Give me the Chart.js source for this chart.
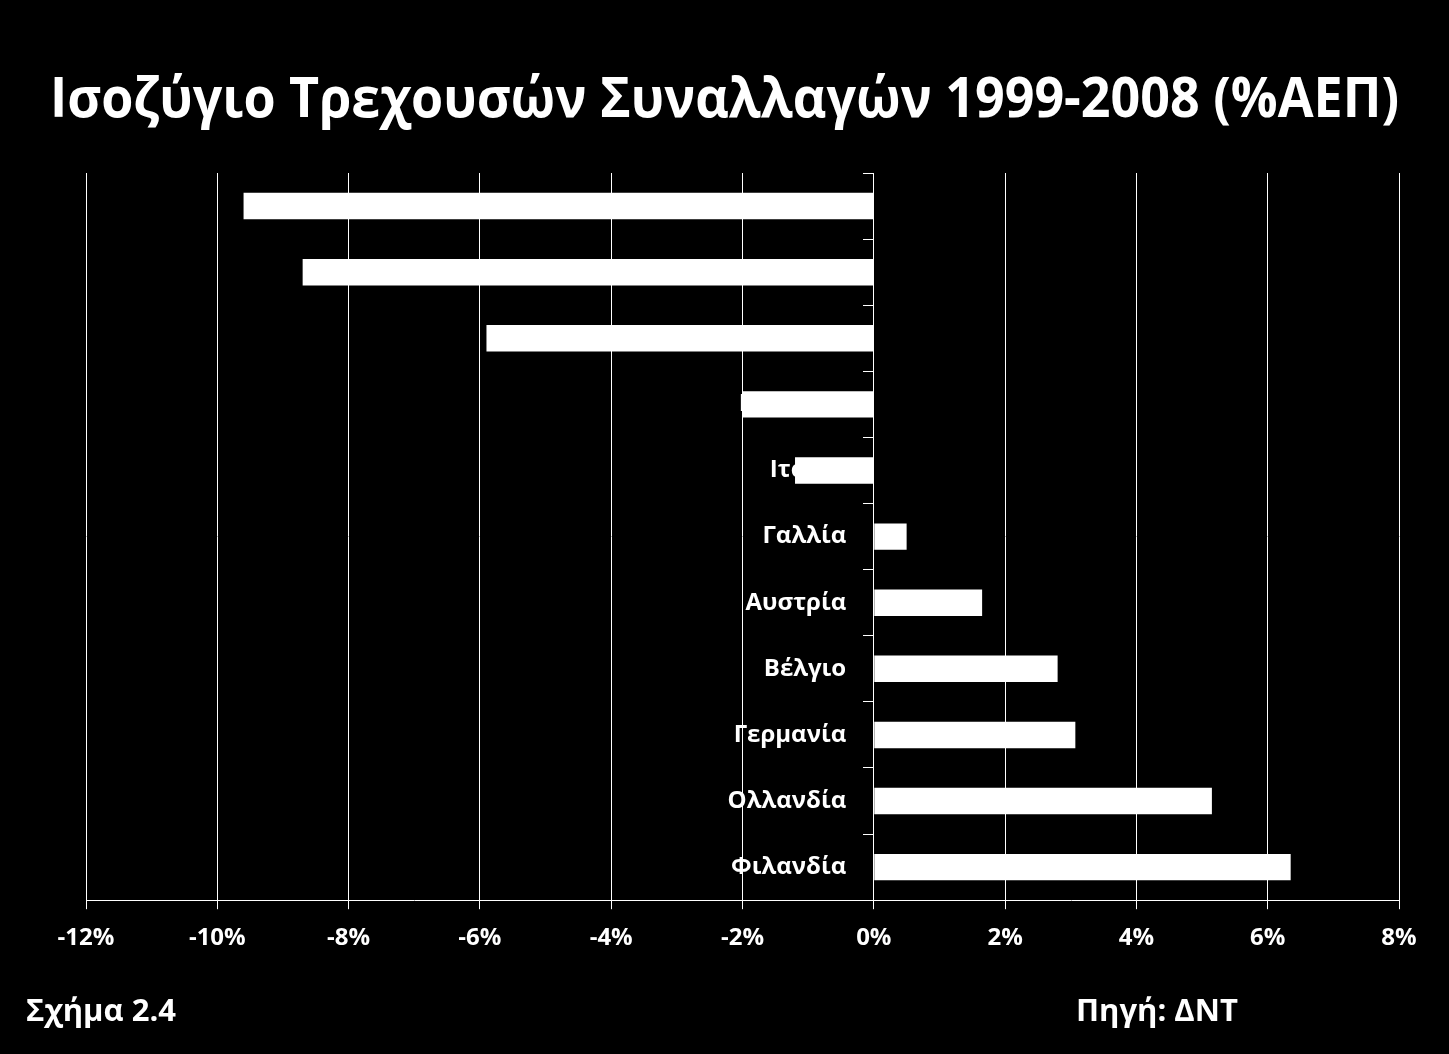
<!DOCTYPE html>
<html>
<head>
<meta charset="utf-8">
<script src="https://cdn.jsdelivr.net/npm/chart.js@4"></script>
<style>
  html, body { margin: 0; padding: 0; background: #000; }
  #wrap { position: relative; width: 1449px; height: 1054px; }
  .note { position: absolute; color: #fff; font-family: "Open Sans", "Noto Sans", sans-serif; font-weight: bold; font-size: 31px; }
</style>
</head>
<body>
<div id="wrap">
  <canvas id="ca-chart" width="1449" height="1054"></canvas>
  <div class="note" style="left:26px; top:988px;">Σχήμα 2.4</div>
  <div class="note" style="left:1076px; top:988px;">Πηγή: ΔΝΤ</div>
</div>
<script>
// Countries, top to bottom
const countries = ["Πορτογαλία", "Ελλάδα", "Ισπανία", "Ιρλανδία", "Ιταλία", "Γαλλία",
    "Αυστρία", "Βέλγιο", "Γερμανία", "Ολλανδία", "Φιλανδία"];
// Current account balance, average 1999-2008, % of GDP
const balance = [-9.6, -8.7, -5.9, -2.0, -1.2, 0.5, 1.65, 2.8, 3.07, 5.15, 6.35];
// x axis range and step (%)
const xMin = -12;
const xMax = 8;
const xStep = 2;

const font = "'Open Sans', 'Noto Sans', sans-serif";

const ctx = document.getElementById("ca-chart").getContext("2d");
new Chart(ctx, {
    type: "bar",
    data: {
        labels: countries,
        datasets: [{
            data: balance,
            yAxisID: "y",
            backgroundColor: "#ffffff",
            borderWidth: 0,
            categoryPercentage: 1.0,
            barPercentage: 0.4,
        }],
    },
    options: {
        indexAxis: "y",
        responsive: false,
        animation: false,
        // symmetric padding so the title is centred on the page
        layout: { padding: { left: 50, right: 50, top: 0, bottom: 86 } },
        plugins: {
            legend: { display: false },
            tooltip: { enabled: false },
            title: {
                display: true,
                text: "Ισοζύγιο Τρεχουσών Συναλλαγών 1999-2008 (%ΑΕΠ)",
                color: "#ffffff",
                font: { family: font, size: 55, weight: "bold" },
                padding: { top: 68, bottom: 39 },
            },
        },
        scales: {
            x: {
                min: xMin,
                max: xMax,
                grid: { color: "#ffffff", lineWidth: 1, tickLength: 9 },
                border: { color: "#ffffff" },
                ticks: {
                    stepSize: xStep,
                    color: "#ffffff",
                    padding: 15,
                    font: { family: font, size: 24, weight: "bold" },
                    callback: (v) => v + "%",
                },
            },
            // country names, set a little left of the zero line
            y: {
                position: { x: -0.42 },
                grid: { display: false },
                border: { display: false },
                ticks: {
                    color: "#ffffff",
                    font: { family: font, size: 24, weight: "bold" },
                },
            },
            // zero line with tick marks between countries
            yAxisLine: {
                type: "category",
                axis: "y",
                labels: countries,
                offset: true,
                position: { x: 0 },
                grid: { color: "#ffffff", drawOnChartArea: false, tickLength: 10, offset: true },
                border: { color: "#ffffff" },
                ticks: { display: false },
            },
            // empty left margin
            spacer: {
                type: "linear",
                axis: "y",
                position: "left",
                grid: { display: false },
                border: { display: false },
                ticks: { display: false },
                afterFit: (scale) => { scale.width = 36; },
            },
        },
    },
});
</script>
</body>
</html>
